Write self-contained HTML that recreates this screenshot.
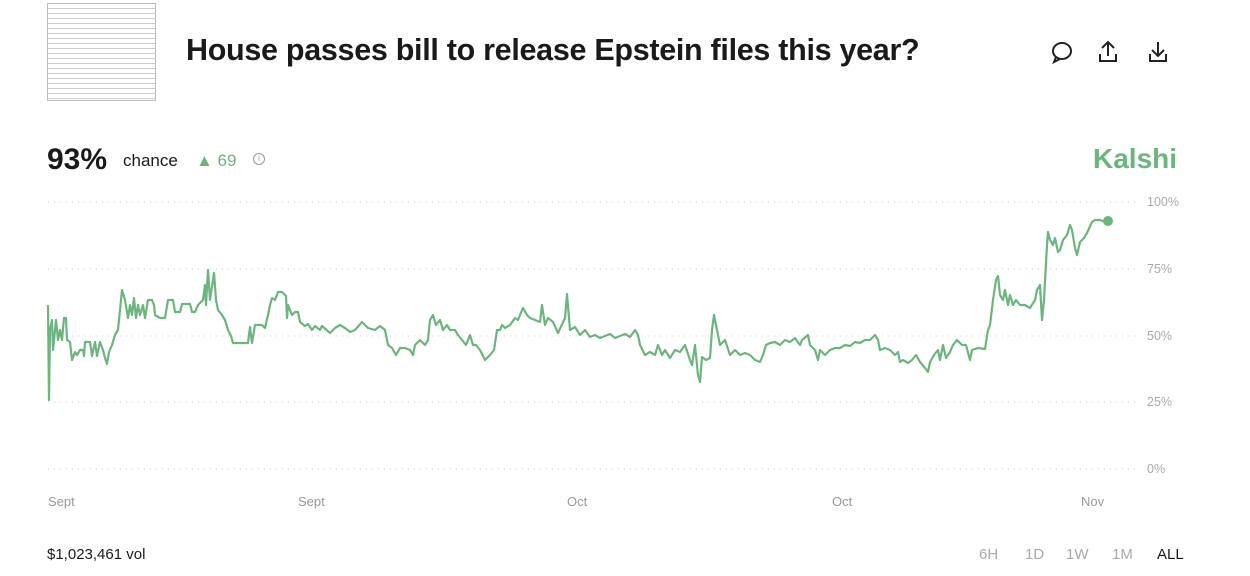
<!DOCTYPE html>
<html><head><meta charset="utf-8"><style>
body{margin:0;width:1250px;height:576px;background:#fff;font-family:"Liberation Sans",sans-serif;position:relative;overflow:hidden;color:#1a1a1a}
.a{position:absolute}
.thumb{left:47px;top:3px;width:107px;height:96px;border:1px solid #bbb;background:repeating-linear-gradient(#fff 0 4px,#ccc 4px 5px)}
.yl{position:absolute;left:1147px;font-size:12.5px;color:#aaa}
.xl{position:absolute;top:494px;font-size:13px;color:#999}
.tf{position:absolute;top:546px;font-size:15px;color:#aaa}
</style></head><body>
<div class="a thumb"></div>
<div class="a" style="left:186px;top:33px;font-size:30.5px;font-weight:bold;letter-spacing:-0.3px">House passes bill to release Epstein files this year?</div>
<svg class="a" style="left:1045px;top:38px" width="130" height="30" fill="none" stroke="#222" stroke-width="2">
<ellipse cx="17" cy="13" rx="9" ry="8"/><path d="M11 19l-2 5 6-3"/>
<path d="M63 4v14M57 10l6-6 6 6M55 16v7h16v-7"/>
<path d="M113 4v14M107 12l6 6 6-6M105 16v7h16v-7"/>
</svg>
<div class="a" style="left:47px;top:143px;font-size:30px;font-weight:bold">93%</div>
<div class="a" style="left:123px;top:151px;font-size:17px">chance</div>
<div class="a" style="left:196px;top:151px;font-size:17px;color:#6db57f">▲ 69</div>
<div class="a" style="left:253px;top:153px;width:10px;height:10px;border:1px solid #999;border-radius:50%;font-size:8px;color:#999;text-align:center;line-height:10px">i</div>
<div class="a" style="left:1093px;top:143px;font-size:28px;font-weight:bold;color:#6db57f">Kalshi</div>
<svg class="a" style="left:0;top:0" width="1250" height="576">
<g stroke="#ccc" stroke-width="1" stroke-dasharray="1 5">
<line x1="48" y1="202" x2="1140" y2="202"/><line x1="48" y1="269" x2="1140" y2="269"/><line x1="48" y1="336" x2="1140" y2="336"/><line x1="48" y1="402" x2="1140" y2="402"/><line x1="48" y1="469" x2="1140" y2="469"/>
</g>
<polyline fill="none" stroke="#6db57f" stroke-width="2.2" stroke-linejoin="round" points="48,305 49,400 50,330 52,320 53,350 56,320 58,340 60,330 62,340 64,318 66,318 67,340 70,342 72,360 75,352 77,355 80,350 83,350 84,356 85,342 90,342 92,356 95,342 97,356 100,342 103,350 105,358 107,364 109,352 112,345 115,335 118,330 120,310 122,290 125,300 128,318 130,305 132,315 134,298 136,318 138,305 140,315 143,305 145,318 148,300 152,300 154,305 155,315 160,318 165,318 168,300 173,300 175,312 180,312 182,304 190,304 192,312 195,312 198,305 203,300 205,285 206,305 208,270 210,300 214,273 216,300 218,310 222,315 225,320 228,330 231,336 233,343 248,343 250,327 252,343 255,325 262,325 265,328 268,315 270,305 272,298 275,300 278,292 282,292 286,296 287,318 288,305 292,315 295,312 298,312 300,322 305,326 308,324 312,330 315,326 320,330 322,326 330,333 335,328 340,325 345,328 350,332 355,330 362,322 368,328 375,330 380,326 385,330 388,345 392,348 396,355 400,348 405,348 410,350 413,355 415,345 420,340 425,345 428,340 430,320 433,315 436,325 440,320 443,330 447,325 450,330 455,330 458,335 462,340 466,345 470,335 473,345 476,345 480,350 485,360 490,355 494,350 497,330 500,330 502,325 505,328 510,325 515,318 518,320 520,315 523,308 527,315 530,318 535,320 540,322 542,305 545,325 548,318 553,322 558,333 565,318 567,294 570,330 575,327 580,335 585,330 590,337 595,335 600,338 605,336 610,334 615,338 620,336 625,334 630,337 635,330 638,335 640,345 645,355 650,352 655,355 658,345 662,355 665,350 670,358 675,350 680,352 685,345 690,360 692,365 695,345 698,375 700,382 702,357 706,360 710,358 712,330 714,315 716,325 718,335 720,345 725,340 730,355 735,350 740,355 745,353 750,355 755,360 760,362 763,355 766,345 770,343 775,342 780,345 785,340 790,342 795,338 800,345 802,340 808,335 810,345 815,350 818,360 820,350 825,355 830,350 835,348 840,348 845,345 850,346 855,342 860,343 865,340 870,340 875,335 878,340 880,350 885,348 890,350 895,355 898,352 900,362 903,360 908,363 912,360 916,355 920,362 925,368 928,372 930,362 934,355 938,350 940,360 943,345 946,358 950,352 953,345 957,340 962,345 966,345 970,360 972,350 978,348 985,349 988,330 990,325 993,300 996,280 998,276 1000,295 1003,300 1005,290 1008,305 1010,295 1013,305 1016,300 1020,305 1025,305 1030,308 1035,300 1037,290 1040,285 1042,320 1044,300 1047,245 1048,232 1050,240 1053,245 1055,238 1058,252 1060,250 1063,240 1067,235 1070,225 1072,230 1075,248 1077,255 1080,242 1084,238 1087,233 1092,222 1095,220 1100,220 1105,222 1108,221"/>
<circle cx="1108" cy="221" r="5" fill="#6db57f"/>
</svg>
<div class="yl" style="top:195px">100%</div><div class="yl" style="top:262px">75%</div><div class="yl" style="top:329px">50%</div><div class="yl" style="top:395px">25%</div><div class="yl" style="top:462px">0%</div>
<div class="xl" style="left:48px">Sept</div><div class="xl" style="left:298px">Sept</div><div class="xl" style="left:567px">Oct</div><div class="xl" style="left:832px">Oct</div><div class="xl" style="left:1081px">Nov</div>
<div class="a" style="left:47px;top:546px;font-size:15px">$1,023,461 vol</div>
<div class="tf" style="left:979px">6H</div><div class="tf" style="left:1025px">1D</div><div class="tf" style="left:1066px">1W</div><div class="tf" style="left:1112px">1M</div><div class="tf" style="left:1157px;color:#1a1a1a">ALL</div>
</body></html>
